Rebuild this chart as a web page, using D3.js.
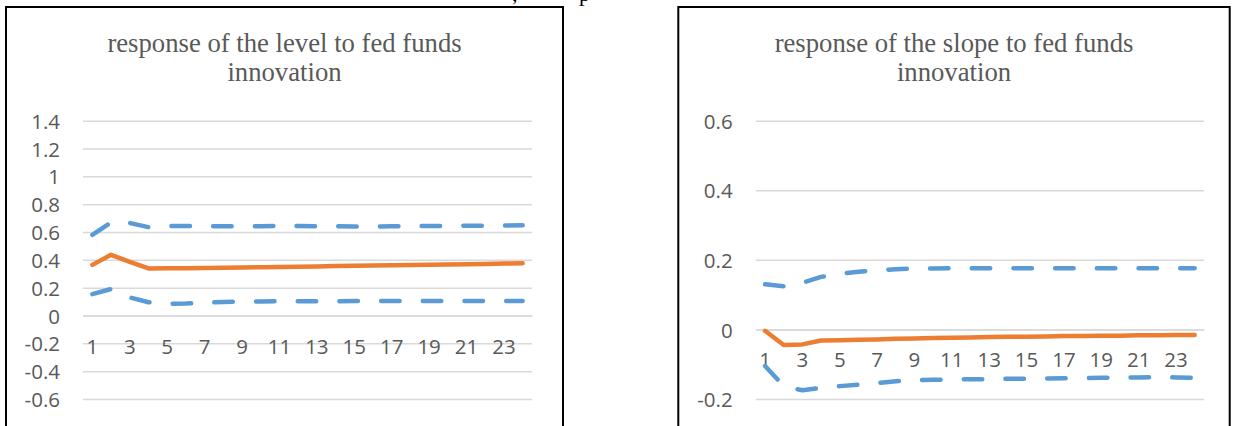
<!DOCTYPE html>
<html>
<head>
<meta charset="utf-8">
<script src="https://cdn.jsdelivr.net/npm/d3@7"></script>
<style>
  html, body { margin: 0; padding: 0; background: #fff; }
  svg { display: block; }
</style>
</head>
<body>
<svg id="chart" width="1235" height="426"></svg>
<script>
// Horizon (periods after the shock)
const periods = [1, 2, 3, 4, 5, 6, 7, 8, 9, 10, 11, 12, 13, 14, 15, 16, 17, 18, 19, 20, 21, 22, 23, 24];

// Response of the level factor
const levelResponse = [0.364, 0.436, 0.386, 0.338, 0.339, 0.340, 0.341, 0.343, 0.345, 0.347, 0.349, 0.351,
                       0.353, 0.355, 0.357, 0.359, 0.361, 0.363, 0.365, 0.367, 0.369, 0.371, 0.373, 0.375];
const levelUpper = [0.58, 0.67, 0.665, 0.635, 0.643, 0.643, 0.641, 0.641, 0.642, 0.642, 0.643, 0.643,
                    0.642, 0.641, 0.640, 0.640, 0.641, 0.642, 0.643, 0.644, 0.645, 0.646, 0.647, 0.648];
const levelLower = [0.154, 0.19, 0.13, 0.095, 0.085, 0.086, 0.092, 0.097, 0.100, 0.101, 0.102, 0.102,
                    0.103, 0.103, 0.104, 0.104, 0.104, 0.104, 0.104, 0.104, 0.105, 0.105, 0.105, 0.105];
const levelTicks = [1.4, 1.2, 1, 0.8, 0.6, 0.4, 0.2, 0, -0.2, -0.4, -0.6];

// Response of the slope factor
const slopeResponse = [-0.004, -0.045, -0.043, -0.032, -0.031, -0.030, -0.029, -0.027, -0.026, -0.025, -0.024, -0.023,
                       -0.022, -0.021, -0.021, -0.020, -0.019, -0.019, -0.018, -0.018, -0.017, -0.017, -0.016, -0.016];
const slopeUpper = [0.130, 0.124, 0.134, 0.151, 0.160, 0.166, 0.170, 0.173, 0.175, 0.175, 0.176, 0.176,
                    0.176, 0.176, 0.176, 0.176, 0.176, 0.176, 0.176, 0.176, 0.176, 0.176, 0.176, 0.176];
const slopeLower = [-0.105, -0.163, -0.175, -0.168, -0.163, -0.159, -0.154, -0.149, -0.146, -0.145, -0.144, -0.143,
                    -0.143, -0.142, -0.142, -0.141, -0.140, -0.140, -0.139, -0.138, -0.138, -0.137, -0.138, -0.139];
const slopeTicks = [0.6, 0.4, 0.2, 0, -0.2];

const titles = [
  ["response of the level to fed funds", "innovation"],
  ["response of the slope to fed funds", "innovation"]
];

const ORANGE = "#ED7D31";
const BLUE = "#5B9BD5";
const GRID = "#D9D9D9";
const TEXT = "#595959";
const LABEL_FONT = "'Open Sans', 'Noto Sans', sans-serif";
const LABEL_SIZE = "20.5px";
const TITLE_FONT = "'Liberation Serif', 'Times New Roman', serif";

const svg = d3.select("#chart");

// Fragments of the surrounding document text above the charts
svg.append("text").attr("x", 512).attr("y", 1)
  .style("font-family", TITLE_FONT).style("font-size", "22px").attr("fill", "#000").text(",");
svg.append("text").attr("x", 579).attr("y", 1)
  .style("font-family", TITLE_FONT).style("font-size", "22px").attr("fill", "#000").text("p");

function fmt(v) {
  return String(+v.toFixed(1));
}

function drawPanel(opts) {
  const g = svg.append("g");

  // Frame of the chart object
  g.append("rect")
    .attr("x", opts.frame[0]).attr("y", 7)
    .attr("width", opts.frame[1] - opts.frame[0]).attr("height", 440)
    .attr("fill", "#fff").attr("stroke", "#000").attr("stroke-width", 2);

  // Two-line title
  const cx = (opts.frame[0] + opts.frame[1]) / 2;
  const title = g.append("text")
    .attr("text-anchor", "middle")
    .attr("fill", TEXT)
    .style("font-family", TITLE_FONT)
    .style("font-size", "26.7px");
  title.append("tspan").attr("x", cx).attr("y", 52).text(opts.title[0]);
  title.append("tspan").attr("x", cx).attr("y", 81).text(opts.title[1]);

  const x = d3.scaleBand().domain(opts.periods).range([opts.plotX[0], opts.plotX[1]]).padding(0);
  const y = d3.scaleLinear().domain(opts.yDomain).range(opts.plotY);
  const w = opts.plotX[1] - opts.plotX[0];

  // Horizontal gridlines
  const grid = g.append("g")
    .attr("transform", `translate(${opts.plotX[0]},0)`)
    .call(d3.axisLeft(y).tickValues(opts.ticks).tickSize(-w).tickFormat(""));
  grid.select(".domain").remove();
  grid.selectAll(".tick line").attr("stroke", GRID).attr("stroke-width", 1.5);

  // Value axis labels
  const yAxis = g.append("g")
    .attr("transform", `translate(${opts.plotX[0]},0)`)
    .call(d3.axisLeft(y).tickValues(opts.ticks).tickSize(0).tickPadding(23).tickFormat(fmt));
  yAxis.select(".domain").remove();
  yAxis.selectAll("text")
    .attr("dy", "0.37em")
    .attr("fill", TEXT)
    .style("font-family", LABEL_FONT)
    .style("font-size", LABEL_SIZE);

  // Category axis labels, every second period, sitting below the zero line
  const xAxis = g.append("g")
    .attr("transform", `translate(0,${y(0)})`)
    .call(d3.axisBottom(x).tickValues(opts.periods.filter((d, i) => i % 2 === 0)).tickSize(0));
  xAxis.select(".domain").attr("stroke", GRID).attr("stroke-width", 1.5);
  xAxis.selectAll("text")
    .attr("y", 38).attr("dy", 0)
    .attr("fill", TEXT)
    .style("font-family", LABEL_FONT)
    .style("font-size", LABEL_SIZE);

  const line = d3.line()
    .x((d, i) => x(opts.periods[i]) + x.bandwidth() / 2)
    .y(d => y(d));

  // Confidence bands (dashed) and the point estimate (solid)
  [opts.upper, opts.lower].forEach(series => {
    g.append("path")
      .datum(series)
      .attr("d", line)
      .attr("fill", "none")
      .attr("stroke", BLUE)
      .attr("stroke-width", 4.5)
      .attr("stroke-linecap", "round")
      .attr("stroke-linejoin", "round")
      .attr("stroke-dasharray", "18.5,23.2");
  });

  g.append("path")
    .datum(opts.response)
    .attr("d", line)
    .attr("fill", "none")
    .attr("stroke", ORANGE)
    .attr("stroke-width", 4.5)
    .attr("stroke-linecap", "round")
    .attr("stroke-linejoin", "round");
}

drawPanel({
  frame: [6, 563],
  title: titles[0],
  periods: periods,
  plotX: [83, 532],
  plotY: [399, 120.7],
  yDomain: [-0.6, 1.4],
  ticks: levelTicks,
  response: levelResponse,
  upper: levelUpper,
  lower: levelLower
});

drawPanel({
  frame: [678.3, 1229.7],
  title: titles[1],
  periods: periods,
  plotX: [755.7, 1204],
  plotY: [399, 120.7],
  yDomain: [-0.2, 0.6],
  ticks: slopeTicks,
  response: slopeResponse,
  upper: slopeUpper,
  lower: slopeLower
});
</script>
</body>
</html>
